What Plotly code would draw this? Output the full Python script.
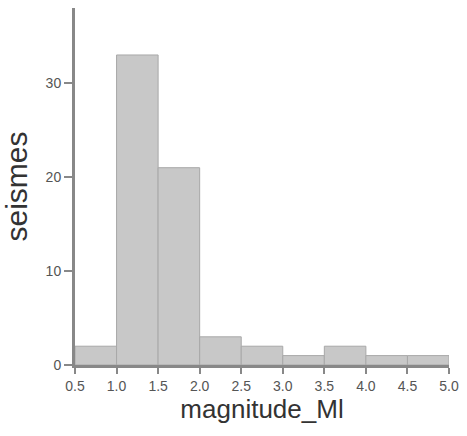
import plotly.graph_objects as go

bin_starts = [0.5, 1.0, 1.5, 2.0, 2.5, 3.0, 3.5, 4.0, 4.5]
bin_width = 0.5
counts = [2, 33, 21, 3, 2, 1, 2, 1, 1]
x_ticks = [0.5, 1.0, 1.5, 2.0, 2.5, 3.0, 3.5, 4.0, 4.5, 5.0]
y_ticks = [0, 10, 20, 30]

centers = [s + bin_width / 2 for s in bin_starts]

fig = go.Figure(go.Bar(
    x=centers, y=counts, width=[bin_width] * len(counts),
    marker=dict(color="#c8c8c8", line=dict(color="#a8a8a8", width=1)),
))

fig.update_layout(
    width=467, height=436,
    margin=dict(l=75, r=15, t=8, b=71),
    plot_bgcolor="white", paper_bgcolor="white",
    showlegend=False,
    font=dict(family="Liberation Sans, Arial, sans-serif"),
)
fig.update_xaxes(
    range=[0.5, 5.0], tickvals=x_ticks,
    ticktext=[f"{v:.1f}" for v in x_ticks],
    showgrid=False, zeroline=False,
    showline=True, linecolor="#888888", linewidth=3,
    ticks="outside", ticklen=6, tickcolor="#888888", tickwidth=1.5,
    tickfont=dict(size=14, color="#555555"),
    title=dict(text="magnitude_Ml", font=dict(size=26, color="#333333"), standoff=6),
)
fig.update_yaxes(
    range=[0, 38], tickvals=y_ticks,
    showgrid=False, zeroline=False,
    showline=True, linecolor="#888888", linewidth=3,
    ticks="outside", ticklen=8, tickcolor="#888888", tickwidth=1.5,
    tickfont=dict(size=14, color="#555555"),
    title=dict(text="seismes", font=dict(size=30, color="#333333"), standoff=10),
)

fig.write_html("out.html", config={"displayModeBar": False},
               post_script="document.body.style.margin='0';")
